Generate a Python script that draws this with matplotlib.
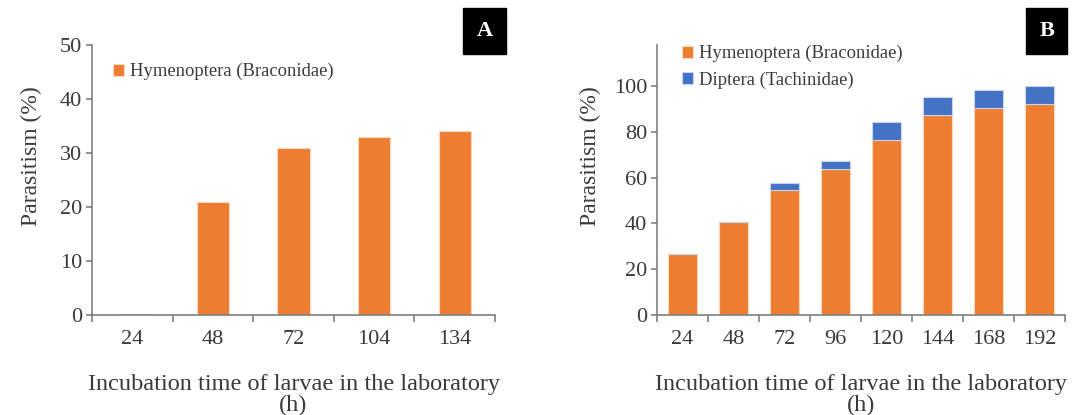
import matplotlib.pyplot as plt
import numpy as np

plt.rcParams['font.family'] = ['Liberation Serif', 'DejaVu Serif']

hours_a = ['24', '48', '72', '104', '134']
hymen_a = [0, 21, 31, 33, 34]

hours_b = ['24', '48', '72', '96', '120', '144', '168', '192']
hymen_b = [26.5, 40.5, 54.8, 64, 76.6, 87.4, 90.6, 92]
dipt_b = [0, 0, 3, 3.2, 7.6, 7.9, 7.7, 8]

orange = '#ED7D31'
blue = '#4472C4'
txt = '#3a3a3a'
axcol = '#7f7f7f'

fig = plt.figure(figsize=(10.82, 4.15), dpi=100)
ax1 = fig.add_axes([92/1082, 1-315/415, 403/1082, 270/415])
ax2 = fig.add_axes([657/1082, 1-315/415, 408/1082, 270/415])


def style(ax, n, lx):
    for s in ['top', 'right']:
        ax.spines[s].set_visible(False)
    for s in ['left', 'bottom']:
        ax.spines[s].set_color(axcol)
        ax.spines[s].set_linewidth(1.2)
    ax.set_xlim(-0.5, n - 0.5)
    ax.set_xticks(np.arange(n))
    ax.tick_params(axis='x', length=0, labelsize=16, colors=txt, pad=11)
    ax.set_xticks(np.arange(n + 1) - 0.5, minor=True)
    ax.tick_params(axis='x', which='minor', length=5, direction='out', color=axcol, width=1.2)
    ax.tick_params(axis='y', length=4, direction='out', color=axcol, width=1.2,
                   labelsize=16, labelcolor=txt, pad=3)
    ax.set_ylabel('Parasitism (%)', fontsize=17, color=txt)
    ax.yaxis.set_label_coords(lx, 0.59)
    ax.set_xlabel('Incubation time of larvae in the laboratory\n(h)', fontsize=17.5,
                  color=txt, labelpad=18, linespacing=1.0)


# panel A
x = np.arange(len(hours_a))
ax1.bar(x, hymen_a, width=0.4, color=orange, edgecolor='#fbd9c0', linewidth=0.8,
        label='Hymenoptera (Braconidae)')
style(ax1, len(hours_a), -0.124)
ax1.set_xticklabels(hours_a)
ax1.set_ylim(0, 50)
ax1.set_yticks([0, 10, 20, 30, 40, 50])
ax1.legend(loc='upper left', bbox_to_anchor=(0.01, 0.995), frameon=False, fontsize=13.4,
           handlelength=0.6, handleheight=0.6, handletextpad=0.3, labelcolor=txt)
ax1.text(0.974, 1.052, 'A', transform=ax1.transAxes, ha='center', va='center',
         color='white', fontsize=16, fontweight='bold',
         bbox=dict(boxstyle='square,pad=0.6', fc='black', ec='black'))

# panel B
x = np.arange(len(hours_b))
ax2.bar(x, hymen_b, width=0.55, color=orange, edgecolor='#fbd9c0', linewidth=0.8,
        label='Hymenoptera (Braconidae)')
ax2.bar(x, dipt_b, width=0.55, bottom=hymen_b, color=blue, edgecolor='#c8d4ec',
        linewidth=0.8, label='Diptera (Tachinidae)')
style(ax2, len(hours_b), -0.137)
ax2.set_xticklabels(hours_b)
ax2.set_ylim(0, 118)
ax2.set_yticks([0, 20, 40, 60, 80, 100])
ax2.legend(loc='upper left', bbox_to_anchor=(0.02, 1.062), frameon=False, fontsize=13.4,
           handlelength=0.6, handleheight=0.6, handletextpad=0.3, labelspacing=0.5,
           labelcolor=txt)
ax2.text(0.955, 1.052, 'B', transform=ax2.transAxes, ha='center', va='center',
         color='white', fontsize=16, fontweight='bold',
         bbox=dict(boxstyle='square,pad=0.6', fc='black', ec='black'))

fig.savefig('out.png', dpi=100)
